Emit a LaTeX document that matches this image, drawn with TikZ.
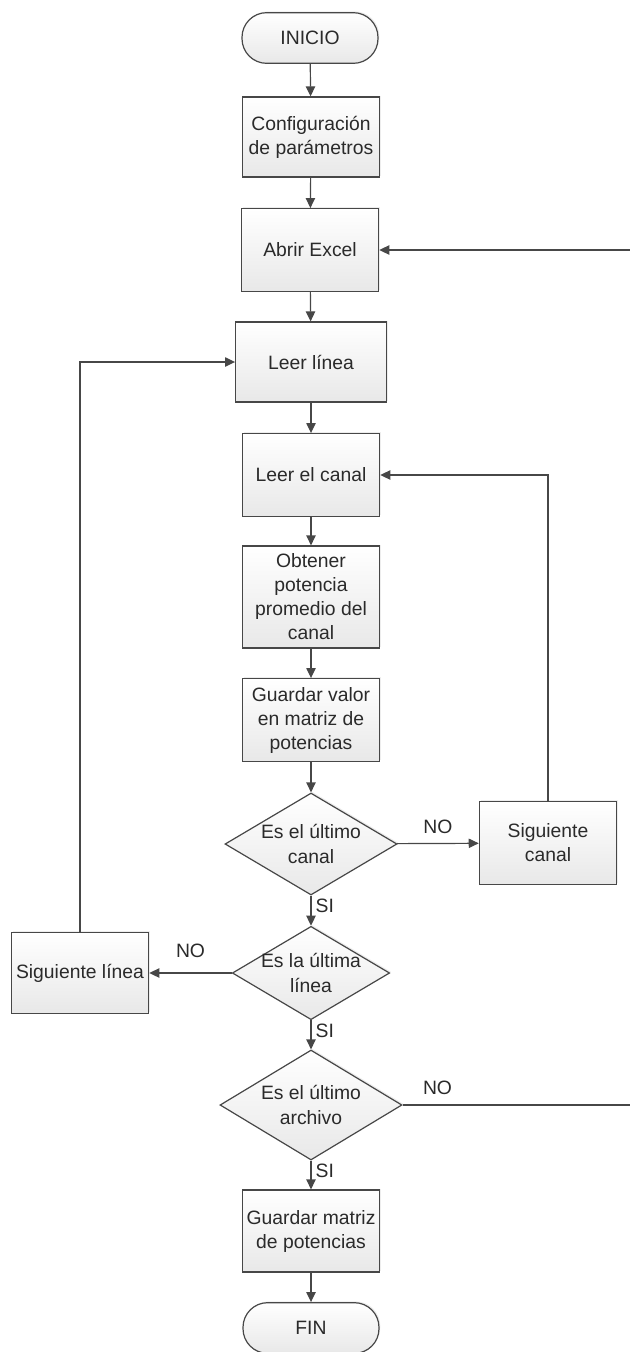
\documentclass[tikz,border=0pt]{standalone}
\usepackage{fontspec}
\setmainfont{Liberation Sans}
\usetikzlibrary{shapes.geometric, arrows.meta, shadows}

\definecolor{linea}{HTML}{474747}
\definecolor{texto}{HTML}{2A2A2A}

\begin{document}
\begin{tikzpicture}[x=0.75pt, y=-0.75pt,
	sombra/.style={drop shadow={shadow xshift=1pt, shadow yshift=1pt, fill=black!14}},
	caja/.style={draw=linea, line width=0.9pt, top color=white, bottom color=black!9, sombra, text=texto, align=center, font=\fontsize{14.5}{18}\selectfont, minimum width=103pt, minimum height=62pt, inner sep=2pt},
	term/.style={caja, rounded corners=18.5pt, minimum width=102pt, minimum height=38pt},
	rombo/.style={diamond, draw=linea, line width=0.9pt, top color=white, bottom color=black!9, sombra, inner sep=0pt},
	texto/.style={text=texto, align=center, font=\fontsize{14.5}{18.5}\selectfont},
	etiq/.style={text=texto, font=\fontsize{14.5}{17}\selectfont, inner sep=3pt},
	flecha/.style={draw=linea, line width=0.9pt, -{Triangle[length=7.5pt, width=7pt]}}]

	\useasboundingbox (0,0) rectangle (629,1352);

	\node[term] (inicio) at (310,38) {INICIO};
	\node[caja, minimum height=60pt] (config) at (311,137) {Configuración\\de parámetros};
	\node[caja] (abrir) at (310,250) {Abrir Excel};
	\node[caja, minimum width=113pt, minimum height=60pt] (leerlinea) at (311,362) {Leer línea};
	\node[caja] (leercanal) at (311,475) {Leer el canal};
	\node[caja, minimum height=76.5pt] (obtener) at (311,597) {Obtener\\potencia\\promedio del\\canal};
	\node[caja] (guardarv) at (311,720) {Guardar valor\\en matriz de\\potencias};

	\node[rombo, minimum width=129pt, minimum height=76.5pt] (dcanal) at (311,844) {};
	\node[texto] (dcanal-t) at (dcanal) {Es el último\\canal};
	\node[caja] (sigcanal) at (548,843) {Siguiente\\canal};

	\node[rombo, minimum width=118pt, minimum height=70pt] (dlinea) at (311,973) {};
	\node[texto] (dlinea-t) at (dlinea) {Es la última\\línea};
	\node[caja, minimum height=61pt] (siglinea) at (80,973) {Siguiente línea};

	\node[rombo, minimum width=136.5pt, minimum height=82.5pt] (darchivo) at (311,1105) {};
	\node[texto] (darchivo-t) at (darchivo) {Es el último\\archivo};

	\node[caja, minimum height=61.5pt] (guardarm) at (311,1231) {Guardar matriz\\de potencias};
	\node[term] (fin) at (311,1328) {FIN};

	\coordinate (borde) at (640,0);

	\draw[flecha] (inicio) -- (config);
	\draw[flecha] (config) -- (abrir);
	\draw[flecha] (abrir) -- (leerlinea);
	\draw[flecha] (leerlinea) -- (leercanal);
	\draw[flecha] (leercanal) -- (obtener);
	\draw[flecha] (obtener) -- (guardarv);
	\draw[flecha] (guardarv) -- (dcanal);

	\draw[flecha] (dcanal) -- node[etiq, above=4pt] {NO} (sigcanal);
	\draw[flecha] (sigcanal.north) |- (leercanal.east);
	\draw[flecha] (dcanal) -- node[etiq, right, pos=0.35] {SI} (dlinea);

	\draw[flecha] (dlinea) -- node[etiq, above=8pt] {NO} (siglinea);
	\draw[flecha] (siglinea.north) |- (leerlinea.west);
	\draw[flecha] (dlinea) -- node[etiq, right, pos=0.35] {SI} (darchivo);

	\draw[flecha] (darchivo.east) -- node[etiq, above=4pt, pos=0.147] {NO} (darchivo.east -| borde) |- (abrir.east);
	\draw[flecha] (darchivo) -- node[etiq, right, pos=0.35] {SI} (guardarm);
	\draw[flecha] (guardarm) -- (fin);

\end{tikzpicture}
\end{document}
